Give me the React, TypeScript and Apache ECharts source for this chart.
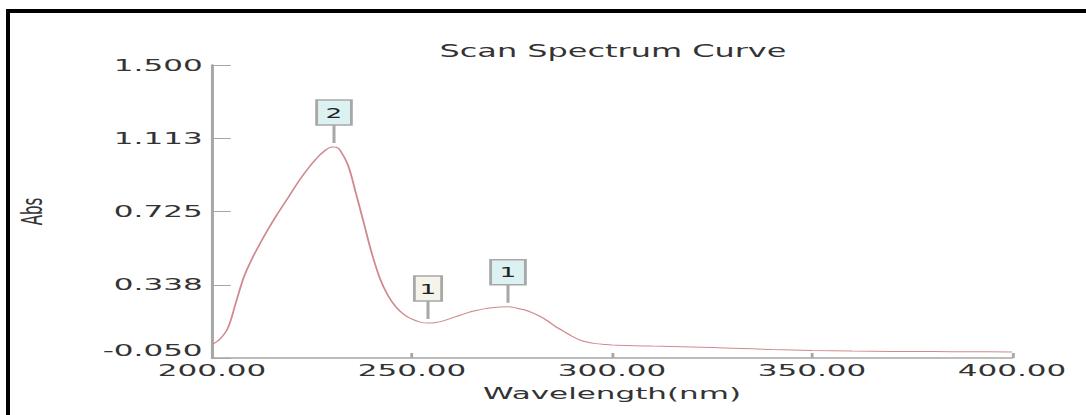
import React, { useEffect, useRef } from "react";
import * as echarts from "echarts";

// Wavelength (nm) and absorbance
const WAVELENGTH = [
  200, 202, 204, 206, 208, 210, 212, 214, 216, 218, 220, 222, 224, 226, 228, 230, 231, 232, 234, 236,
  238, 240, 242, 244, 246, 248, 250, 252, 254, 256, 258, 260, 262, 264, 266, 268, 270, 272, 274, 276,
  278, 280, 282, 284, 286, 288, 290, 292, 294, 296, 298, 300, 310, 320, 330, 340, 350, 360, 370, 380,
  390, 400,
];
const ABSORBANCE = [
  0.02, 0.05, 0.11, 0.245, 0.38, 0.475, 0.555, 0.63, 0.7, 0.765, 0.83, 0.895, 0.952, 1.003, 1.043, 1.066, 1.065, 1.05, 0.97, 0.82,
  0.66, 0.5, 0.37, 0.28, 0.22, 0.18, 0.155, 0.14, 0.135, 0.138, 0.148, 0.162, 0.176, 0.19, 0.201, 0.21, 0.216, 0.22, 0.221, 0.215,
  0.205, 0.19, 0.17, 0.145, 0.115, 0.09, 0.065, 0.045, 0.033, 0.026, 0.022, 0.019, 0.013, 0.008, 0.002, -0.005, -0.01, -0.013, -0.015, -0.016,
  -0.017, -0.018,
];

const X_TICK_LABELS = ["200.00", "250.00", "300.00", "350.00", "400.00"];
const Y_TICK_LABELS = ["-0.050", "0.338", "0.725", "1.113", "1.500"];

// Peak / valley markers
const MARK_NM = [230.5, 254, 274];
const MARK_ABS = [1.066, 0.135, 0.221];
const MARK_LABELS = ["2", "1", "1"];
const MARK_KIND = ["peak", "valley", "peak"];

const X_MIN = 200;
const X_MAX = 400;
const X_STEP = 50;
const Y_MIN = -0.05;
const Y_MAX = 1.5;
const Y_STEP = (Y_MAX - Y_MIN) / 4;

const STRETCH = 1.88;
const CHART_W = 578;
const FONT = "'DejaVu Sans', Verdana, sans-serif";

export default function App() {
  const ref = useRef<HTMLDivElement>(null);

  useEffect(() => {
    if (!ref.current) return;
    const chart = echarts.init(ref.current, undefined, { renderer: "svg" });
    const lineData = WAVELENGTH.map((x, i) => [x, ABSORBANCE[i] - Y_MIN]);
    const markData = MARK_NM.map((x, i) => [x, MARK_ABS[i] - Y_MIN]);
    const gridLeft = 212 / STRETCH;
    const gridRight = CHART_W - 1012 / STRETCH;
    const plotCenter = (212 / STRETCH + 1012 / STRETCH) / 2;

    chart.setOption({
      animation: false,
      backgroundColor: "transparent",
      title: {
        text: "Scan Spectrum Curve",
        left: plotCenter - 4.5,
        textAlign: "center",
        top: 38,
        textStyle: { fontFamily: FONT, fontSize: 17, fontWeight: "normal", color: "#333" },
      },
      grid: { left: gridLeft, right: gridRight, top: 65, bottom: 57 },
      xAxis: {
        type: "value",
        min: X_MIN,
        max: X_MAX,
        interval: X_STEP,
        name: "Wavelength(nm)",
        nameLocation: "middle",
        nameGap: 27,
        nameTextStyle: { fontFamily: FONT, fontSize: 16.5, color: "#333" },
        axisLine: { show: true, lineStyle: { color: "#a6a6a6", width: 1.5 } },
        axisTick: { show: true, inside: true, length: 5, lineStyle: { color: "#a6a6a6", width: 1.5 } },
        axisLabel: {
          margin: 4,
          fontFamily: FONT,
          fontSize: 16.5,
          color: "#333",
          formatter: (_v: number, i: number) => X_TICK_LABELS[i] ?? "",
        },
        splitLine: { show: false },
      },
      yAxis: {
        type: "value",
        min: 0,
        max: Y_MAX - Y_MIN,
        interval: Y_STEP,
        name: "Abs",
        nameLocation: "middle",
        nameGap: 88,
        nameTextStyle: { fontFamily: FONT, fontSize: 15, color: "#333" },
        axisLine: { show: true, lineStyle: { color: "#a6a6a6", width: 1.6 } },
        axisTick: { show: true, inside: true, length: 10, lineStyle: { color: "#a6a6a6", width: 1 } },
        axisLabel: {
          margin: 5,
          fontFamily: FONT,
          fontSize: 16.5,
          color: "#333",
          formatter: (_v: number, i: number) =>
            i === 0 ? `{low|${Y_TICK_LABELS[i]}}` : Y_TICK_LABELS[i] ?? "",
          rich: {
            low: { fontFamily: FONT, fontSize: 16.5, color: "#333", padding: [0, 0, 16, 0] },
          },
        },
        splitLine: { show: false },
      },
      series: [
        {
          type: "line",
          data: lineData,
          smooth: 0.35,
          showSymbol: false,
          lineStyle: { color: "#cf8a8f", width: 1 },
          z: 2,
        },
        {
          type: "custom",
          data: markData,
          z: 3,
          renderItem: (params: any, api: any) => {
            const i = params.dataIndex;
            const p = api.coord([api.value(0), api.value(1)]);
            const valley = MARK_KIND[i] === "valley";
            const w = valley ? 14.5 : 18.5;
            const h = 25;
            const stemTop = p[1] - 22;
            return {
              type: "group",
              children: [
                {
                  type: "line",
                  shape: { x1: p[0], y1: p[1] - 4, x2: p[0], y2: stemTop },
                  style: { stroke: "#a8a8a8", lineWidth: 1.6 },
                },
                {
                  type: "rect",
                  shape: { x: p[0] - w / 2, y: stemTop - h, width: w, height: h },
                  style: { fill: valley ? "#f6f4ea" : "#dcf2f2", stroke: "#a8a8a8", lineWidth: 1.5 },
                },
                {
                  type: "text",
                  style: {
                    text: MARK_LABELS[i],
                    x: p[0],
                    y: stemTop - h / 2,
                    align: "center",
                    verticalAlign: "middle",
                    fontSize: 14,
                    fontFamily: FONT,
                    fill: "#222",
                  },
                },
              ],
            };
          },
        },
      ],
    });
    return () => chart.dispose();
  }, []);

  return (
    <div
      style={{
        position: "fixed",
        left: 0,
        top: 0,
        width: 1086,
        height: 415,
        background: "#fff",
        overflow: "hidden",
      }}
    >
      <div
        style={{
          position: "absolute",
          left: 6,
          top: 9,
          width: 1080,
          height: 406,
          borderLeft: "4px solid #000",
          borderTop: "4px solid #000",
          boxSizing: "border-box",
        }}
      />
      <div
        ref={ref}
        style={{
          position: "absolute",
          left: 0,
          top: 0,
          width: CHART_W,
          height: 415,
          transform: `scaleX(${STRETCH})`,
          transformOrigin: "0 0",
        }}
      />
    </div>
  );
}
